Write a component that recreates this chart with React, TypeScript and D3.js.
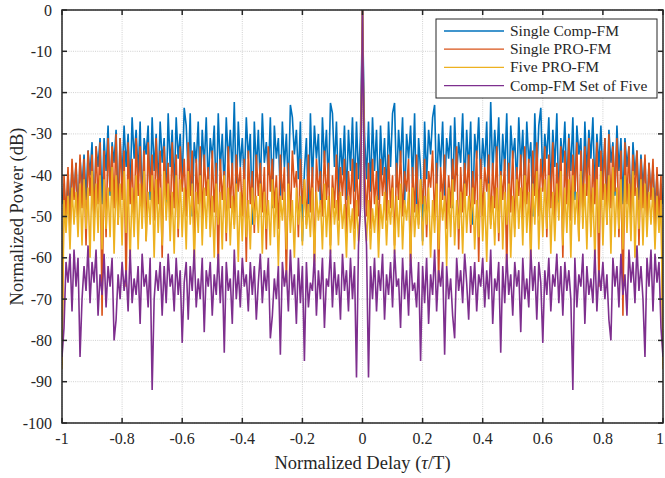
import React from "react";
import * as d3 from "d3";

// Half-profiles (tau = 0 .. 1, step 1/150); autocorrelations are symmetric in tau
const singleCompFM = [
  0, -30, -41, -27, -44, -26, -39, -29, -46, -28,
  -40, -31, -45, -27, -38, -25, -22.5, -43, -29, -37,
  -26, -47, -30, -36, -28, -42, -25, -50, -31, -39,
  -56, -27, -41, -29, -35, -26, -23, -44, -30, -38,
  -27, -45, -31, -36, -28, -48, -26, -40, -32, -37,
  -25, -43, -29, -39, -27, -52, -30, -36, -26, -42,
  -31, -38, -27, -46, -22.3, -40, -29, -37, -26, -44,
  -30, -39, -25, -47, -28, -36, -31, -43, -26, -38,
  -29, -45, -27, -37, -32, -50, -25, -40, -28, -23.7,
  -42, -30, -36, -26, -44, -29, -38, -25, -47, -31,
  -37, -27, -43, -30, -39, -26, -46, -28, -35, -31,
  -48, -27, -40, -29, -36, -26, -44, -30, -38, -28,
  -41, -31, -49, -29, -37, -32, -45, -28, -39, -31,
  -47, -31, -38, -33, -52, -32, -40, -34, -46, -35,
  -43, -36, -50, -37, -45, -38, -48, -40, -52, -42, -47,
];
const singlePROFM = [
  0, -38, -50, -37, -53, -36, -47, -39, -55, -36,
  -45, -38, -51, -35, -48, -40, -57, -37, -46, -34,
  -50, -39, -44, -36, -62, -38, -49, -35, -52, -41,
  -47, -36, -55, -39, -43, -34, -51, -37, -66, -38,
  -46, -35, -53, -40, -48, -36, -44, -33, -58, -38,
  -49, -37, -45, -35, -54, -39, -47, -34, -61, -36,
  -50, -38, -44, -35, -52, -37, -48, -33, -56, -39,
  -46, -36, -63, -37, -49, -34, -53, -38, -45, -35,
  -51, -33, -47, -36, -58, -34, -45, -32, -50, -36,
  -44, -33, -55, -35, -48, -32, -52, -37, -46, -33,
  -60, -34, -47, -31, -51, -35, -44, -32, -56, -34,
  -49, -33, -45, -31, -53, -36, -47, -32, -67, -34,
  -46, -31, -52, -30, -48, -33, -44, -31, -55, -34,
  -74, -32, -47, -33, -51, -35, -45, -34, -57, -36,
  -48, -35, -52, -37, -46, -36, -54, -38, -50, -40, -86,
];
const fivePROFM = [
  0, -47, -56, -46, -58, -48, -54, -45, -60, -47,
  -53, -44, -57, -46, -52, -43, -59, -45, -55, -42,
  -58, -46, -51, -44, -61, -43, -55, -47, -53, -41,
  -57, -45, -52, -43, -60, -46, -54, -42, -58, -44,
  -51, -45, -62, -43, -55, -41, -57, -46, -53, -44,
  -59, -42, -54, -45, -52, -43, -58, -46, -55, -41,
  -56, -44, -61, -42, -53, -45, -57, -43, -54, -40,
  -58, -44, -52, -42, -60, -45, -55, -41, -53, -43,
  -57, -40, -54, -44, -62, -42, -52, -39, -58, -43,
  -55, -41, -53, -40, -59, -44, -56, -42, -51, -39,
  -57, -43, -54, -41, -60, -40, -52, -44, -56, -39,
  -53, -42, -58, -40, -55, -43, -61, -41, -54, -39,
  -57, -42, -52, -40, -59, -38, -55, -43, -53, -41,
  -58, -40, -54, -42, -56, -39, -60, -43, -53, -41,
  -57, -42, -55, -44, -52, -43, -58, -45, -54, -46, -87,
];
const compFMSetOfFive = [
  0, -48, -57, -89, -62, -70, -60, -73, -63, -68,
  -59, -75, -64, -69, -61, -72, -58, -67, -65, -77,
  -60, -70, -63, -74, -59, -68, -66, -72, -61, -85,
  -62, -71, -60, -76, -64, -69, -58, -73, -63, -67,
  -61, -83.5, -62, -70, -65, -74, -79.5, -60, -68, -63,
  -71, -59, -66, -75, -62, -69, -61, -73, -64, -67,
  -60, -72, -63, -70, -58, -76, -65, -68, -61, -83,
  -62, -71, -59, -69, -64, -74, -61, -67, -63, -78,
  -60, -70, -65, -72, -58, -68, -62, -75, -61, -66,
  -80.6, -63, -69, -60, -73, -64, -67, -59, -71, -62,
  -74, -61, -68, -63, -70, -92, -60, -72, -64, -67,
  -59, -76, -62, -69, -65, -71, -58, -73, -63, -68,
  -61, -70, -64, -75, -80, -60, -67, -62, -72, -59,
  -69, -64, -74, -58, -66, -61, -71, -57, -68, -62,
  -70, -84, -60, -67, -58, -73, -59, -66, -61, -77, -84,
];

const seriesNames = ["Single Comp-FM", "Single PRO-FM", "Five PRO-FM", "Comp-FM Set of Five"];
const seriesHalves = [singleCompFM, singlePROFM, fivePROFM, compFMSetOfFive];
const seriesColors = ["#0072BD", "#D95319", "#EDB120", "#7E2F8E"];
const xTicks = [-1, -0.8, -0.6, -0.4, -0.2, 0, 0.2, 0.4, 0.6, 0.8, 1];
const yTicks = [0, -10, -20, -30, -40, -50, -60, -70, -80, -90, -100];

const W = 665, H = 478;
const L = 62, R = 663, T = 10, B = 423;
const FONT = "'Liberation Serif', 'Times New Roman', serif";
const AXC = "#262626";

export default function App() {
  const x = d3.scaleLinear().domain([-1, 1]).range([L, R]);
  const y = d3.scaleLinear().domain([-100, 0]).range([B, T]);

  const fullSeries = seriesHalves.map((half) => {
    const n = half.length - 1;
    const pts: [number, number][] = [];
    for (let i = n; i >= 1; i--) pts.push([-i / n, half[i]]);
    for (let i = 0; i <= n; i++) pts.push([i / n, half[i]]);
    return pts;
  });

  const line = d3
    .line<[number, number]>()
    .x((d) => x(d[0]))
    .y((d) => y(d[1]));

  const tickLen = 5;
  const fmt = (v: number) => String(v);

  const legX = 436, legY = 19, legW = 221, legH = 79;

  return (
    <svg
      width={W}
      height={H}
      style={{ position: "fixed", left: 0, top: 0, background: "#fff" }}
      fontFamily={FONT}
    >
      <rect x={0} y={0} width={W} height={H} fill="#fff" />
      <defs>
        <clipPath id="plotClip">
          <rect x={L} y={T} width={R - L} height={B - T} />
        </clipPath>
      </defs>
      {/* grid */}
      <g stroke="#c4c4c4" strokeWidth={0.8} strokeDasharray="1 1.2">
        {xTicks.map((t) => (
          <line key={"gx" + t} x1={x(t)} x2={x(t)} y1={T} y2={B} />
        ))}
        {yTicks.map((t) => (
          <line key={"gy" + t} x1={L} x2={R} y1={y(t)} y2={y(t)} />
        ))}
      </g>
      {/* series */}
      <g clipPath="url(#plotClip)" fill="none" strokeWidth={1.6} strokeLinejoin="miter" strokeMiterlimit={3}>
        {fullSeries.map((pts, k) => (
          <path key={seriesNames[k]} d={line(pts) || ""} stroke={seriesColors[k]} />
        ))}
      </g>
      {/* axes box */}
      <rect x={L} y={T} width={R - L} height={B - T} fill="none" stroke={AXC} strokeWidth={1.5} />
      <g stroke={AXC} strokeWidth={1.5}>
        {xTicks.map((t) => (
          <g key={"tx" + t}>
            <line x1={x(t)} x2={x(t)} y1={B} y2={B - tickLen} />
            <line x1={x(t)} x2={x(t)} y1={T} y2={T + tickLen} />
          </g>
        ))}
        {yTicks.map((t) => (
          <g key={"ty" + t}>
            <line x1={L} x2={L + tickLen} y1={y(t)} y2={y(t)} />
            <line x1={R} x2={R - tickLen} y1={y(t)} y2={y(t)} />
          </g>
        ))}
      </g>
      {/* tick labels */}
      <g fontSize={16} fill={AXC}>
        {xTicks.map((t) => (
          <text key={"lx" + t} x={Math.min(x(t), W - 5)} y={444} textAnchor="middle">
            {fmt(t)}
          </text>
        ))}
        {yTicks.map((t) => (
          <text key={"ly" + t} x={L - 10} y={y(t) + 5.5} textAnchor="end">
            {fmt(t)}
          </text>
        ))}
      </g>
      {/* axis labels */}
      <text x={(L + R) / 2} y={469} textAnchor="middle" fontSize={18.5} fill={AXC}>
        Normalized Delay (<tspan fontStyle="italic">τ</tspan>/T)
      </text>
      <text
        transform={`translate(23, ${(T + B) / 2}) rotate(-90)`}
        textAnchor="middle"
        fontSize={18.5}
        fill={AXC}
      >
        Normalized Power (dB)
      </text>
      {/* legend */}
      <g>
        <rect x={legX} y={legY} width={legW} height={legH} fill="#fff" stroke={AXC} strokeWidth={1} />
        {seriesNames.map((name, k) => {
          const cy = 31 + k * 18.2;
          return (
            <g key={"leg" + name}>
              <line x1={444} x2={504} y1={cy} y2={cy} stroke={seriesColors[k]} strokeWidth={1.3} />
              <text x={510} y={cy + 5} fontSize={15.5} fill={AXC}>
                {name}
              </text>
            </g>
          );
        })}
      </g>
    </svg>
  );
}
